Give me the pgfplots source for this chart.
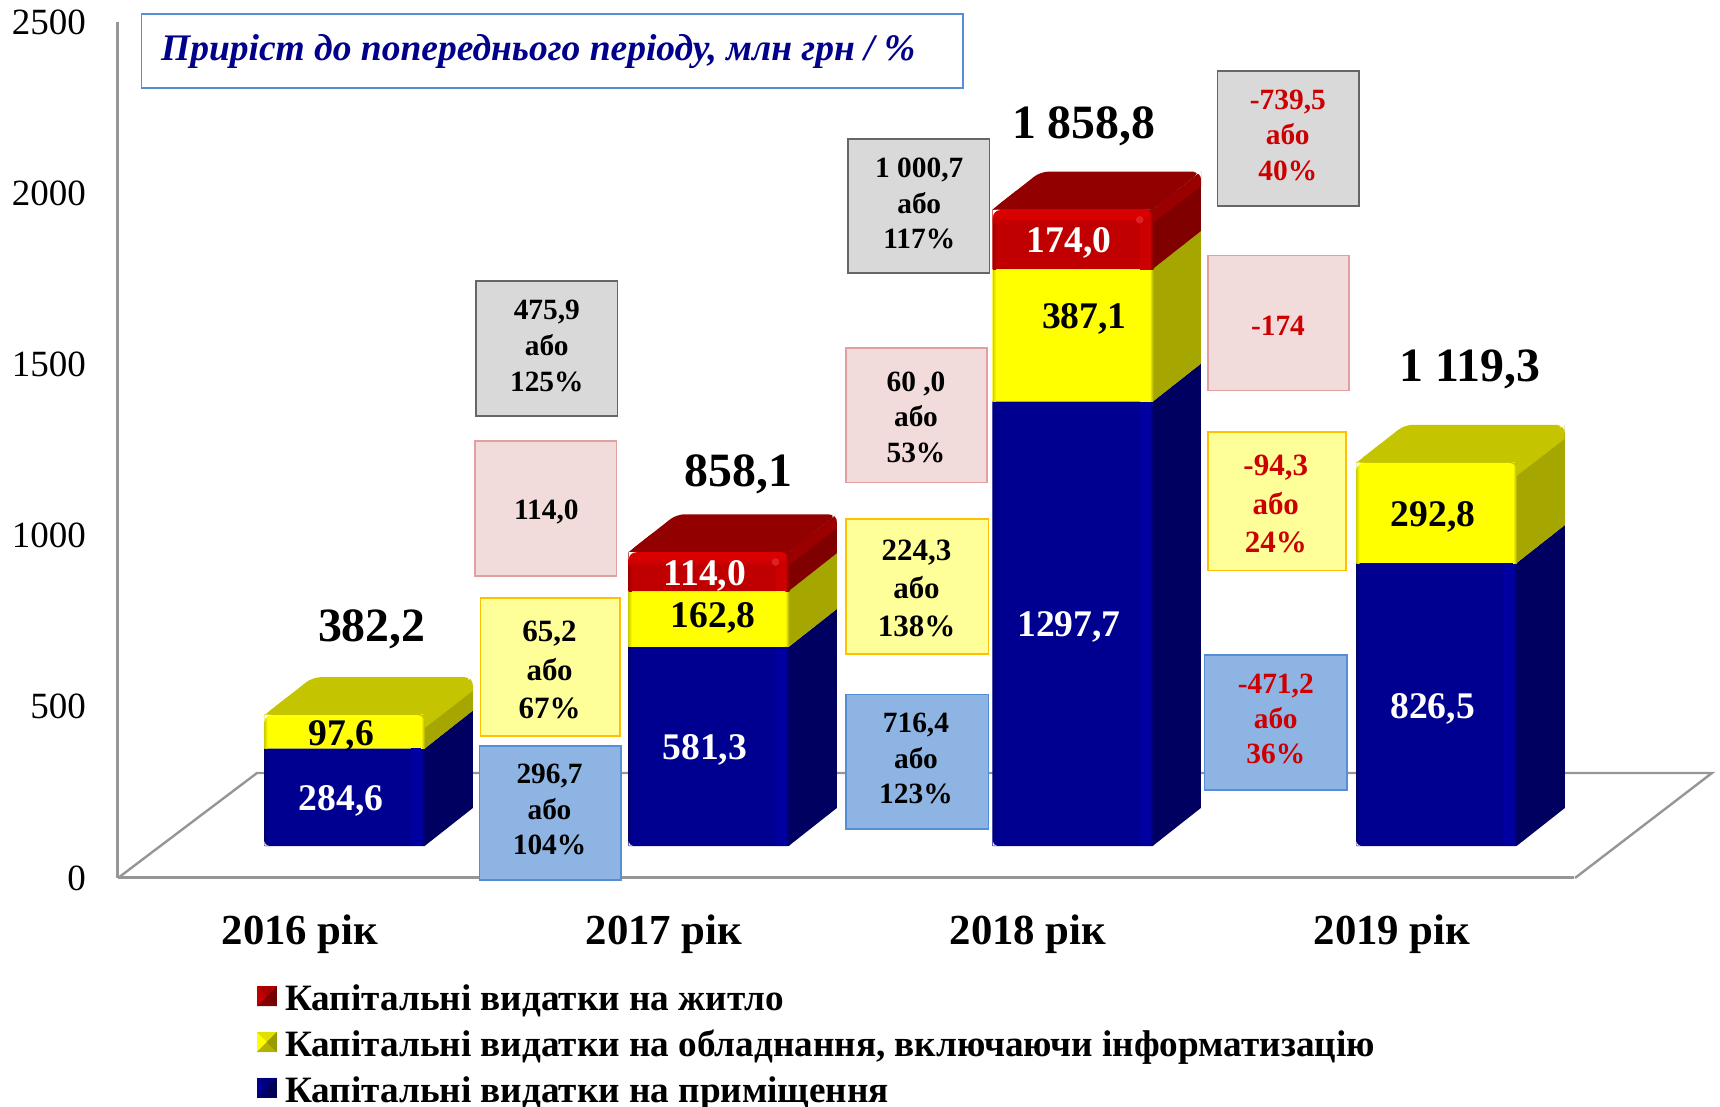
\documentclass[border=0pt]{standalone}
\usepackage{pgfplots}
\pgfplotsset{compat=1.18}
\usepackage{fontspec}
\setmainfont{Liberation Serif}

\definecolor{blueF}{HTML}{000090}
\definecolor{blueS}{HTML}{000060}
\definecolor{blueL}{HTML}{0000A0}
\definecolor{blueE}{HTML}{000070}
\definecolor{yelF}{HTML}{FFFF00}
\definecolor{yelS}{HTML}{A6A600}
\definecolor{yelT}{HTML}{C4C400}
\definecolor{yelE}{HTML}{D0D000}
\definecolor{yelB}{HTML}{C4C400}
\definecolor{redF}{HTML}{C00000}
\definecolor{redS}{HTML}{800000}
\definecolor{redT}{HTML}{930000}
\definecolor{redL}{HTML}{CC0000}
\definecolor{redE}{HTML}{A00000}
\definecolor{redB}{HTML}{9A0000}
\definecolor{redH}{HTML}{D80000}
\definecolor{redSpot}{HTML}{E02020}
\definecolor{axisgray}{HTML}{969696}
\definecolor{boxGrayF}{HTML}{D9D9D9}
\definecolor{boxGrayD}{HTML}{666666}
\definecolor{boxPinkF}{HTML}{F2DCDB}
\definecolor{boxPinkD}{HTML}{E0A0A0}
\definecolor{boxYelF}{HTML}{FFFF99}
\definecolor{boxYelD}{HTML}{FFC000}
\definecolor{boxBluF}{HTML}{8EB4E3}
\definecolor{boxBluD}{HTML}{558ED5}
\definecolor{redtxt}{HTML}{CC0000}
\definecolor{titleblue}{HTML}{00008B}

% bar axes: same scale as the main one, floor of the bars lies above the front edge
\pgfplotsset{
  baraxis/.style={
    x=182pt, y=0.1712pt,
    xmin=-0.622, xmax=3.378,
    ymin=-93.2, ymax=2406.8,
    hide axis, clip=false,
  },
}

% right face and top face of one bar segment
\newcommand{\sideface}[4]{%
  \pgfmathsetmacro\xa{#1+0.22}\pgfmathsetmacro\xb{#1+0.3526}%
  \pgfmathsetmacro\ya{#2+111}\pgfmathsetmacro\yb{#3+111}%
  \edef\tmp{\noexpand\addplot[draw=none,fill=#4] coordinates {(\xa,#2)(\xb,\ya)(\xb,\yb)(\xa,#3)} --cycle;}\tmp}
\newcommand{\topface}[3]{%
  \pgfmathsetmacro\xa{#1-0.22}\pgfmathsetmacro\xb{#1-0.0874}%
  \pgfmathsetmacro\xc{#1+0.3526}\pgfmathsetmacro\xd{#1+0.22}%
  \pgfmathsetmacro\xe{#1-0.1537}\pgfmathsetmacro\xf{#1+0.2863}%
  \pgfmathsetmacro\yb{#2+111}\pgfmathsetmacro\yc{#2+55.5}%
  \edef\tmp{\noexpand\addplot[draw=none,fill=#3,rounded corners=4pt] coordinates {(\xa,#2)(\xb,\yb)(\xc,\yb)(\xd,#2)} --cycle;}\tmp
  \edef\tmp{\noexpand\addplot[draw=none,fill=#3] coordinates {(\xa,#2)(\xe,\yc)(\xf,\yc)(\xd,#2)} --cycle;}\tmp}

% annotation helpers, coordinates in pixels of the 1568 wide view
\newcommand{\abox}[6]{\draw[fill=#5,draw=#6,line width=0.8pt] (#1,#2) rectangle (#3,#4);}
\newcommand{\lbl}[5]{\node[align=center,inner sep=0pt,text=#4,font=\fontsize{#2}{#3}\selectfont\bfseries] at (#1) {#5};}
\newcommand{\corner}[3]{\fill[#3] (#1+7,#2) .. controls (#1+3,#2) and (#1,#2+3) .. (#1,#2+7) -- (#1,#2) -- cycle;}
\newcommand{\cornerR}[3]{\fill[#3] (#1-7,#2) .. controls (#1-3,#2) and (#1,#2+3) .. (#1,#2+7) -- (#1,#2) -- cycle;}
\newcommand{\cornerB}[2]{\fill[white] (#1+4,#2) .. controls (#1+2,#2) and (#1,#2-2) .. (#1,#2-4) -- (#1,#2) -- cycle;}
% bevel of a front face: x0, y bottom, y top, light strip, side, dark edge, front
\newcommand{\seg}[7]{%
  \fill[#4] (#1+134,#3) rectangle (#1+143,#2);
  \shade[left color=#4,right color=#5] (#1+143,#3) rectangle (#1+146.5,#2);
  \shade[left color=#6,right color=#7] (#1,#3) rectangle (#1+3,#2);}
% upper bevel of the side face: x0, y top, colour
\newcommand{\sidetop}[3]{\fill[#3] (#1+146,#2) -- (#1+190,#2-34.6) -- (#1+190,#2-22) -- (#1+146,#2+12) -- cycle;}
\newcommand{\redtop}[2]{%
  \fill[redH] (#1,#2) rectangle (#1+143,#2+6);
  \shade[top color=redH,bottom color=redF] (#1,#2+6) rectangle (#1+143,#2+12);
  \fill[redSpot] (#1+134,#2+9) circle[radius=3.5];}

\begin{document}
\begin{tikzpicture}
\useasboundingbox (-59pt,-114.5pt) rectangle (801pt,439pt);

% floor and value axis
\begin{axis}[
    x=182pt, y=0.1712pt,
    xmin=-0.5, xmax=3.5,
    ymin=0, ymax=2500,
    axis lines=left,
    axis line style={axisgray, line width=1.5pt, -},
    major tick length=0pt,
    clip=false,
    ytick={0,500,1000,1500,2000,2500},
    xtick={0,1,2,3},
    xticklabels={2016 рік,2017 рік,2018 рік,2019 рік},
    /pgf/number format/assume math mode=true,
    /pgf/number format/1000 sep={},
    yticklabel style={font=\fontsize{18.5}{20}\selectfont, xshift=-12.5pt},
    xticklabel style={font=\fontsize{21.4}{24}\selectfont\bfseries, yshift=-15pt},
]
\end{axis}
\draw[axisgray, line width=1.2pt] (0,0) -- (69.5pt,52.5pt) -- (797pt,52.5pt) -- (728.5pt,0pt);

% depth of the bars
\begin{axis}[baraxis]
\sideface{0}{0}{284.6}{blueS}
\sideface{0}{284.6}{382.2}{yelS}
\topface{0}{382.2}{yelT}
\sideface{1}{0}{581.3}{blueS}
\sideface{1}{581.3}{744.1}{yelS}
\sideface{1}{744.1}{858.1}{redS}
\topface{1}{858.1}{redT}
\sideface{2}{0}{1297.7}{blueS}
\sideface{2}{1297.7}{1684.8}{yelS}
\sideface{2}{1684.8}{1858.8}{redS}
\topface{2}{1858.8}{redT}
\sideface{3}{0}{826.5}{blueS}
\sideface{3}{826.5}{1119.3}{yelS}
\topface{3}{1119.3}{yelT}
\end{axis}

% front faces and legend
\begin{axis}[
    baraxis,
    ybar stacked,
    bar width=80pt,
    reverse legend,
    legend image code/.code={
      \fill[#1] (0pt,-3.5pt) rectangle (10pt,6.5pt);
      \fill[black,opacity=0.4] (10pt,-3.5pt) -- (10pt,6.5pt) -- (5pt,1.5pt) -- cycle;
      \fill[black,opacity=0.3] (0pt,-3.5pt) -- (10pt,-3.5pt) -- (5pt,1.5pt) -- cycle;
      \fill[black,opacity=0.12] (0pt,6.5pt) -- (10pt,6.5pt) -- (5pt,1.5pt) -- cycle;
      \path (12.2pt,1pt);
    },
    legend style={
      at={(0.0954,-0.1203)}, anchor=north west,
      draw=none, fill=none, inner sep=0pt, outer sep=0pt,
      row sep=4.2pt,
      font=\fontsize{18.6}{20}\selectfont\bfseries,
      cells={anchor=west},
    },
]
\addplot[draw=none, fill=blueF] coordinates {(0,284.6) (1,581.3) (2,1297.7) (3,826.5)};
\addplot[draw=none, fill=yelF] coordinates {(0,97.6) (1,162.8) (2,387.1) (3,292.8)};
\addplot[draw=none, fill=redF] coordinates {(0,0) (1,114.0) (2,174.0) (3,0)};
\addlegendentry{Капітальні видатки на приміщення}
\addlegendentry{Капітальні видатки на обладнання, включаючи інформатизацію}
\addlegendentry{Капітальні видатки на житло}
\end{axis}

% annotations
\begin{scope}[shift={(-59pt,439pt)}, x=0.54847pt, y=-0.54847pt]
% bevels on the bars
\seg{241}{771}{682.3}{blueL}{blueS}{blueE}{blueF}
\seg{241}{682.3}{651.8}{yelF}{yelS}{yelE}{yelF}
\seg{573}{771}{589.8}{blueL}{blueS}{blueE}{blueF}
\seg{573}{589.8}{539}{yelF}{yelS}{yelE}{yelF}
\seg{573}{539}{503.4}{redL}{redS}{redE}{redF}
\seg{905}{771}{366.4}{blueL}{blueS}{blueE}{blueF}
\seg{905}{366.4}{245.7}{yelF}{yelS}{yelE}{yelF}
\seg{905}{245.7}{191.4}{redL}{redS}{redE}{redF}
\seg{1236.4}{771}{513.3}{blueL}{blueS}{blueE}{blueF}
\seg{1236.4}{513.3}{422}{yelF}{yelS}{yelE}{yelF}
\redtop{573}{503.4} \redtop{905}{191.4}
\sidetop{241}{651.8}{yelB} \sidetop{1236.4}{422}{yelB}
\sidetop{573}{503.4}{redB} \sidetop{905}{191.4}{redB}
\corner{241}{651.8}{white} \cornerR{387.5}{651.8}{yelT}
\corner{573}{503.4}{white} \cornerR{719.5}{503.4}{redT}
\corner{905}{191.4}{white} \cornerR{1051.5}{191.4}{redT}
\corner{1236.4}{422}{white} \cornerR{1382.9}{422}{yelT}
\cornerR{431}{617.2}{white} \cornerR{763}{468.8}{white}
\cornerR{1095}{156.8}{white} \cornerR{1426.4}{387.4}{white}
\cornerB{241}{771} \cornerB{573}{771} \cornerB{905}{771} \cornerB{1236.4}{771}

\abox{129}{13}{878}{80}{white}{boxBluD}
\node[anchor=west,inner sep=0pt,text=titleblue,font=\fontsize{18.75}{20}\selectfont\bfseries\itshape] at (146.5,47) {Приріст до попереднього періоду, млн грн / \%};

\abox{434}{256}{563}{379}{boxGrayF}{boxGrayD}
\lbl{498.5,315}{14.7}{18}{black}{475,9\\або\\125\%}
\abox{433}{402}{562}{525}{boxPinkF}{boxPinkD}
\lbl{498,467}{14.7}{18}{black}{114,0}
\abox{438}{545}{565}{671}{boxYelF}{boxYelD}
\lbl{501,611}{15.5}{19.2}{black}{65,2\\або\\67\%}
\abox{437}{680}{566}{802}{boxBluF}{boxBluD}
\lbl{501,738}{14.7}{17.7}{black}{296,7\\або\\104\%}

\abox{773}{127}{902}{249}{boxGrayF}{boxGrayD}
\lbl{838,185.5}{14.7}{17.7}{black}{1 000,7\\або\\117\%}
\abox{771}{317}{900}{440}{boxPinkF}{boxPinkD}
\lbl{835,380.5}{14.7}{17.7}{black}{60 ,0\\або\\53\%}
\abox{771}{473}{901}{596}{boxYelF}{boxYelD}
\lbl{835.5,536.5}{15.5}{19.2}{black}{224,3\\або\\138\%}
\abox{771}{633}{901}{756}{boxBluF}{boxBluD}
\lbl{835,691.5}{14.7}{17.7}{black}{716,4\\або\\123\%}

\abox{1110}{65}{1239}{188}{boxGrayF}{boxGrayD}
\lbl{1174,123.5}{14.7}{17.7}{redtxt}{-739,5\\або\\40\%}
\abox{1101}{233}{1230}{356}{boxPinkF}{boxPinkD}
\lbl{1165,297}{14.7}{18}{redtxt}{-174}
\abox{1101}{394}{1227}{520}{boxYelF}{boxYelD}
\lbl{1163,459.5}{15.5}{19.2}{redtxt}{-94,3\\або\\24\%}
\abox{1098}{597}{1228}{720}{boxBluF}{boxBluD}
\lbl{1163,655.5}{14.7}{17.7}{redtxt}{-471,2\\або\\36\%}

% values on the bars
\lbl{311,730}{18.8}{20}{white}{284,6}
\lbl{311,671}{18.8}{20}{black}{97,6}
\lbl{642.5,684}{18.8}{20}{white}{581,3}
\lbl{650,563}{18.8}{20}{black}{162,8}
\lbl{642.5,525}{18.8}{20}{white}{114,0}
\lbl{974.5,572}{18.8}{20}{white}{1297,7}
\lbl{988.5,291}{18.8}{20}{black}{387,1}
\lbl{974.5,221}{18.8}{20}{white}{174,0}
\lbl{1306,646}{18.8}{20}{white}{826,5}
\lbl{1306.5,471}{18.8}{20}{black}{292,8}

% totals
\lbl{339,574}{23.9}{26}{black}{382,2}
\lbl{673,432}{23.9}{26}{black}{858,1}
\lbl{988,115}{23.9}{26}{black}{1 858,8}
\lbl{1340,337}{23.9}{26}{black}{1 119,3}
\end{scope}
\end{tikzpicture}
\end{document}
